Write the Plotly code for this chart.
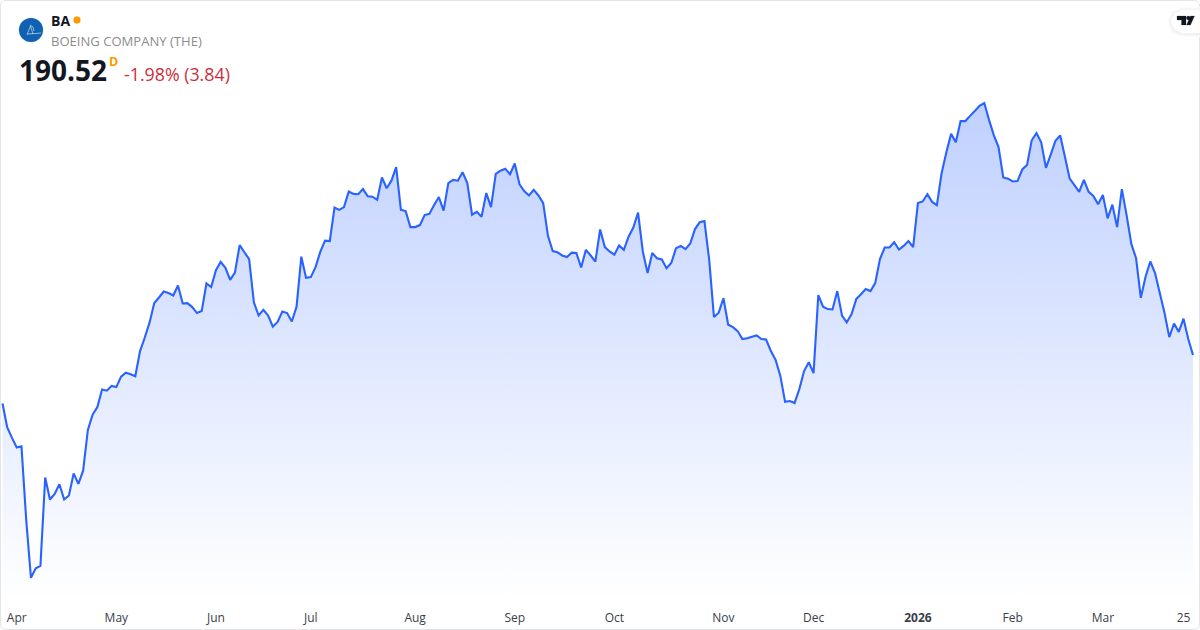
import pandas as pd
import plotly.graph_objects as go

SYMBOL = "BA"
COMPANY = "BOEING COMPANY (THE)"
LAST = "190.52"
CHANGE = "-1.98% (3.84)"

HOLIDAYS = ["2025-04-18", "2025-05-26", "2025-06-19", "2025-07-04", "2025-09-01", "2025-11-27",
            "2025-12-25", "2026-01-01", "2026-01-19", "2026-02-16"]
sessions = [d.strftime("%Y-%m-%d") for d in pd.bdate_range("2025-03-27", "2026-03-27")
            if d.strftime("%Y-%m-%d") not in HOLIDAYS]

close = [
    178.4, 172.4, 169.8, 167.4, 167.7, 149.3, 134.8, 137.2, 137.8, 159.9,
    154.4, 155.8, 158.2, 154.4, 155.4, 160.9, 158.3, 161.6, 171.8, 175.6,
    177.5, 181.9, 181.6, 182.8, 182.5, 185.1, 186.1, 185.7, 185.2, 191.5,
    194.9, 198.6, 203.5, 204.9, 206.4, 206.0, 205.4, 207.9, 203.4, 203.5,
    202.5, 201.0, 201.5, 208.4, 207.5, 211.7, 213.8, 212.3, 209.3, 211.1,
    218.0, 216.2, 214.5, 203.7, 200.4, 201.8, 200.4, 197.6, 198.8, 201.4,
    201.0, 198.9, 202.6, 215.1, 209.8, 210.0, 212.5, 216.3, 219.1, 219.0,
    227.4, 226.8, 227.5, 231.4, 230.8, 230.7, 232.0, 230.2, 230.1, 229.3,
    234.9, 232.2, 234.1, 237.5, 226.8, 226.5, 222.5, 222.5, 223.0, 225.5,
    225.8, 228.0, 230.0, 226.6, 233.5, 234.3, 234.1, 236.2, 233.5, 225.6,
    226.3, 225.1, 231.0, 227.5, 235.8, 236.6, 237.1, 235.7, 238.4, 233.2,
    231.5, 230.4, 231.8, 230.4, 228.5, 220.3, 216.5, 216.2, 215.4, 215.0,
    216.1, 216.0, 212.4, 216.8, 215.4, 213.9, 221.9, 217.5, 216.4, 215.6,
    217.9, 216.8, 220.1, 222.4, 226.1, 216.4, 211.0, 216.0, 214.7, 214.4,
    212.2, 213.5, 217.2, 217.8, 217.0, 218.4, 222.0, 223.7, 224.0, 214.3,
    200.0, 201.1, 204.7, 198.1, 197.5, 196.5, 194.5, 194.7, 195.1, 195.4,
    194.5, 194.4, 191.5, 189.3, 185.3, 178.8, 179.0, 178.5, 182.0, 186.5,
    188.7, 186.0, 205.5, 202.6, 202.0, 201.9, 206.5, 200.4, 198.7, 200.7,
    204.5, 205.7, 207.0, 206.5, 208.5, 214.5, 217.4, 217.4, 218.7, 216.9,
    217.8, 219.0, 217.5, 228.5, 228.9, 230.7, 228.8, 228.0, 236.0, 241.2,
    245.8, 243.7, 249.0, 249.0, 250.3, 251.5, 252.8, 253.5, 249.3, 245.5,
    242.5, 234.9, 234.6, 233.9, 234.0, 236.9, 238.0, 244.2, 246.0, 243.7,
    237.3, 240.6, 244.1, 245.4, 240.1, 234.6, 233.0, 231.3, 234.3, 231.3,
    230.3, 228.2, 230.5, 224.7, 228.1, 222.5, 232.0, 225.5, 218.3, 214.7,
    204.8, 210.1, 213.9, 211.0, 206.0, 201.0, 195.0, 198.4, 196.3, 199.6,
    194.5, 190.52,
]

tick_dates = ["2025-04-01", "2025-05-01", "2025-06-02", "2025-07-01", "2025-08-01", "2025-09-02",
              "2025-10-01", "2025-11-03", "2025-12-01", "2026-01-02", "2026-02-02", "2026-03-02", "2026-03-25"]
tick_labels = ["Apr", "May", "Jun", "Jul", "Aug", "Sep", "Oct", "Nov", "Dec", "<b>2026</b>", "Feb", "Mar", "25"]

W, H, PLOT_H = 1200, 630, 600
STEP = 4.743
FONT = "Open Sans"

def px(x):
    return x / W

def py(y):
    return 1 - y / PLOT_H

def path(points, close_path=True):
    body = " L ".join(f"{px(x):.5f} {py(y):.5f}" for x, y in points)
    return "M " + body + (" Z" if close_path else "")

fig = go.Figure()
fig.add_trace(go.Scatter(
    x=sessions, y=close, mode="lines",
    line=dict(color="#2962ff", width=2.1, simplify=False),
    fill="tozeroy",
    fillgradient=dict(type="vertical",
                      colorscale=[[0, "rgba(41,98,255,0)"], [1, "rgba(41,98,255,0.30)"]],
                      start=129.27, stop=254.5),
    hoverinfo="skip", showlegend=False,
))

shapes = []
r = 6
frame = (f"M {px(r)} {py(0.5)} L {px(W-r)} {py(0.5)} Q {px(W-0.5)} {py(0.5)} {px(W-0.5)} {py(r)} "
         f"L {px(W-0.5)} {py(H-r)} Q {px(W-0.5)} {py(H-0.5)} {px(W-r)} {py(H-0.5)} "
         f"L {px(r)} {py(H-0.5)} Q {px(0.5)} {py(H-0.5)} {px(0.5)} {py(H-r)} "
         f"L {px(0.5)} {py(r)} Q {px(0.5)} {py(0.5)} {px(r)} {py(0.5)} Z")
shapes.append(dict(type="path", xref="paper", yref="paper", path=frame,
                   line=dict(color="#e4e5e9", width=1), fillcolor="rgba(0,0,0,0)", layer="above"))

def tab(x0, y0, y1):
    k = (y1 - y0) / 2
    ym = (y0 + y1) / 2
    pts = [(1199.5, y0), (x0 + k, y0), (x0 + 0.3 * k, y0 + 0.3 * k), (x0, ym),
           (x0 + 0.3 * k, y1 - 0.3 * k), (x0 + k, y1), (1199.5, y1)]
    return path(pts)

for grow, width, color in ((0, 7, "#fbfbfc"), (0, 5, "#f7f7f8"), (0, 3, "#f1f1f3")):
    shapes.append(dict(type="path", xref="paper", yref="paper", path=tab(1171, 10.5, 33.5),
                       line=dict(color=color, width=width), fillcolor="#ffffff", layer="above"))
shapes.append(dict(type="path", xref="paper", yref="paper", path=tab(1171, 10, 33),
                   line=dict(color="#ffffff", width=0.5), fillcolor="#ffffff", layer="above"))
for pts in ([(1177, 16), (1186, 16), (1186, 25), (1181.5, 25), (1181.5, 20), (1177, 20)],
            [(1190.5, 16), (1194.5, 16), (1190.5, 25), (1186.5, 25)]):
    shapes.append(dict(type="path", xref="paper", yref="paper", path=path(pts),
                       line=dict(color="#131722", width=0.2), fillcolor="#131722", layer="above"))

def circle(cx, cy, rad, color):
    return dict(type="circle", xref="paper", yref="paper", layer="above",
                x0=px(cx - rad), x1=px(cx + rad), y0=py(cy + rad), y1=py(cy - rad),
                fillcolor=color, line=dict(color=color, width=0.2))

shapes.append(circle(1188.3, 18, 2, "#131722"))
shapes.append(circle(31, 30, 12, "#0f62b1"))
shapes.append(circle(77, 20, 3.5, "#ff9800"))
for pts in ([(27, 35), (30.5, 26), (33, 34)], [(28, 34), (36, 33.5), (41, 33)], [(30, 25), (33, 27), (34, 31)]):
    shapes.append(dict(type="path", xref="paper", yref="paper", path=path(pts, False),
                       line=dict(color="rgba(255,255,255,0.8)", width=0.7), fillcolor="rgba(0,0,0,0)", layer="above"))

def label(text, x, y, size, color):
    return dict(text=text, x=px(x), y=py(y), xref="paper", yref="paper", xanchor="left", yanchor="middle",
                showarrow=False, align="left", font=dict(family=FONT, size=size, color=color),
                borderpad=0, borderwidth=0)

annotations = [
    label(f"<b>{SYMBOL}</b>", 51, 20.5, 14, "#131722"),
    label(COMPANY, 51, 40.5, 13.07, "#8c8c8c"),
    label(f"<b>{LAST}</b>", 19, 70.5, 28, "#131722"),
    label("<b>D</b>", 109, 61, 12.5, "#ff9800"),
    label(CHANGE, 124, 74.5, 17.8, "#cc2f3c"),
]

fig.update_layout(
    width=W, height=H, margin=dict(l=0, r=0, t=0, b=H - PLOT_H, pad=0),
    paper_bgcolor="#ffffff", plot_bgcolor="#ffffff", showlegend=False,
    shapes=shapes, annotations=annotations,
    xaxis=dict(type="category", categoryorder="array", categoryarray=sessions,
               range=[-2.5 / STEP, (W - 2.5) / STEP],
               tickmode="array", tickvals=tick_dates, ticktext=tick_labels,
               ticks="", showgrid=False, zeroline=False, showline=False, automargin=False,
               tickangle=0, ticklabelstandoff=9,
               tickfont=dict(family=FONT, size=12, color="#3a3e48")),
    yaxis=dict(range=[129.27, 279.27], visible=False, showgrid=False, zeroline=False, fixedrange=True),
)

fig.write_html("out.html", config=dict(displayModeBar=False, staticPlot=True),
               post_script="document.body.style.margin='0';document.body.style.overflow='hidden';")
